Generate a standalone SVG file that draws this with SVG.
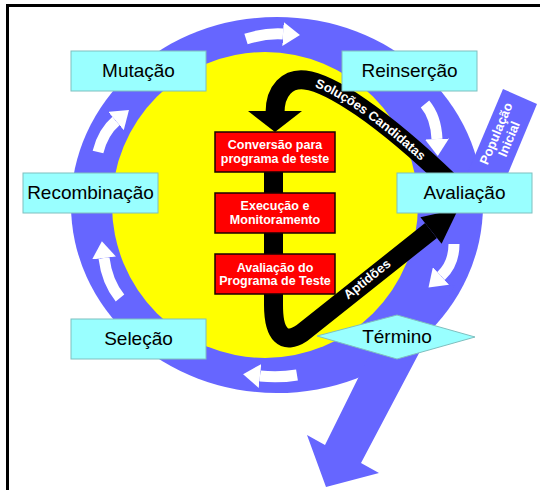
<svg xmlns="http://www.w3.org/2000/svg" width="540" height="490" viewBox="0 0 540 490">
  <defs>
    <style>
      .ring { fill: #6666FF; }
      .wa { fill: none; stroke: #FFFFFF; stroke-width: 11; marker-end: url(#wh); }
      .band { fill: none; stroke: #000000; stroke-width: 19; stroke-linejoin: round; }
      .cy { fill: #99FFFF; stroke: #7FBFBF; stroke-width: 1; }
      .cyt { font-family: "Liberation Sans", Arial, sans-serif; font-size: 19px; fill: #000000; text-anchor: middle; }
      .rd { fill: #FF0000; stroke: #1A0000; stroke-width: 1.5; }
      .rdt { font-family: "Liberation Sans", Arial, sans-serif; font-size: 12.5px; font-weight: bold; fill: #FFFFFF; text-anchor: middle; }
      .bt { font-family: "Liberation Sans", Arial, sans-serif; font-size: 13px; font-weight: bold; fill: #FFFFFF; text-anchor: middle; }
    </style>
    <marker id="wh" markerUnits="userSpaceOnUse" viewBox="0 0 17 24" markerWidth="17" markerHeight="24" refX="0" refY="12" orient="auto">
      <path d="M0,0 L17,12 L0,24 z" fill="#FFFFFF"/>
    </marker>
    <path id="solPath" d="M275,113 C275,90 288,78 305,80 C330,83 380,115 450,182"/>
  </defs>

  <rect x="0" y="0" width="540" height="490" fill="#FFFFFF"/>
  <rect x="7.5" y="5.5" width="600" height="600" fill="none" stroke="#000000" stroke-width="3"/>

  <!-- blue cycle ring with entry and exit bands -->
  <g id="ring">
    <ellipse class="ring" cx="277" cy="205" rx="206" ry="188"/>
    <polygon class="ring" points="372,350 325,445 307,435 326,487 379,473 361,463 455,285 420,290"/>
    <polygon class="ring" points="503,89 537,104 497,200 456,200"/>
  </g>

  <!-- white flow arrows around the ring -->
  <g id="ring-arrows">
    <path class="wa" d="M246,39 Q265,33 283,34"/>
    <path class="wa" d="M425,104 Q436,117 437,139"/>
    <path class="wa" d="M454,244 Q454,264 441,276"/>
    <path class="wa" d="M297,375 Q279,378 260,376"/>
    <path class="wa" d="M120,298 Q107,282 104,258"/>
    <path class="wa" d="M98,152 Q103,132 116,121"/>
  </g>

  <circle id="core" cx="265" cy="205" r="153" fill="#FFFF00"/>

  <!-- black flows -->
  <g id="connectors">
    <use href="#solPath" class="band"/>
    <polygon points="248,111 302,111 275,132" fill="#000000"/>
    <path class="band" d="M273.5,140 L273.5,305 C273.5,335 284,345 302,333 L431,230.5"/>
    <polygon points="420.4,217.2 441.6,243.8 458.4,208.7" fill="#000000"/>
    <text class="bt" dy="4.5"><textPath href="#solPath" startOffset="129">Soluções Candidatas</textPath></text>
    <text class="bt" transform="translate(367,279) rotate(-38.5)" y="4.5">Aptidões</text>
  </g>

  <g id="conversao">
    <rect class="rd" x="215" y="132" width="120" height="40"/>
    <text class="rdt" x="275" y="149.3">Conversão para</text>
    <text class="rdt" x="275" y="162.7">programa de teste</text>
  </g>
  <g id="execucao">
    <rect class="rd" x="215" y="193" width="120" height="40"/>
    <text class="rdt" x="275" y="210">Execução e</text>
    <text class="rdt" x="275" y="223.5">Monitoramento</text>
  </g>
  <g id="avaliacao-programa">
    <rect class="rd" x="215" y="254" width="120" height="40"/>
    <text class="rdt" x="275" y="271.5">Avaliação do</text>
    <text class="rdt" x="275" y="285">Programa de Teste</text>
  </g>

  <g id="populacao">
    <text class="bt" transform="translate(502,136) rotate(-67.3)"><tspan x="0" y="-2">População</tspan><tspan x="0" y="12">Inicial</tspan></text>
  </g>

  <g id="mutacao">
    <rect class="cy" x="71" y="51" width="135" height="40"/>
    <text class="cyt" x="138.5" y="76.5">Mutação</text>
  </g>
  <g id="reinsercao">
    <rect class="cy" x="342" y="51" width="135" height="40"/>
    <text class="cyt" x="409.5" y="76.5">Reinserção</text>
  </g>
  <g id="recombinacao">
    <rect class="cy" x="23" y="173" width="135" height="40"/>
    <text class="cyt" x="90.5" y="198.5">Recombinação</text>
  </g>
  <g id="avaliacao">
    <rect class="cy" x="397" y="173" width="135" height="40"/>
    <text class="cyt" x="464.5" y="199">Avaliação</text>
  </g>
  <g id="selecao">
    <rect class="cy" x="71" y="319" width="135" height="40"/>
    <text class="cyt" x="138.5" y="344.5">Seleção</text>
  </g>
  <g id="termino">
    <polygon class="cy" points="317,336 397,315 475,337 397,359"/>
    <text class="cyt" x="397" y="343">Término</text>
  </g>
</svg>
